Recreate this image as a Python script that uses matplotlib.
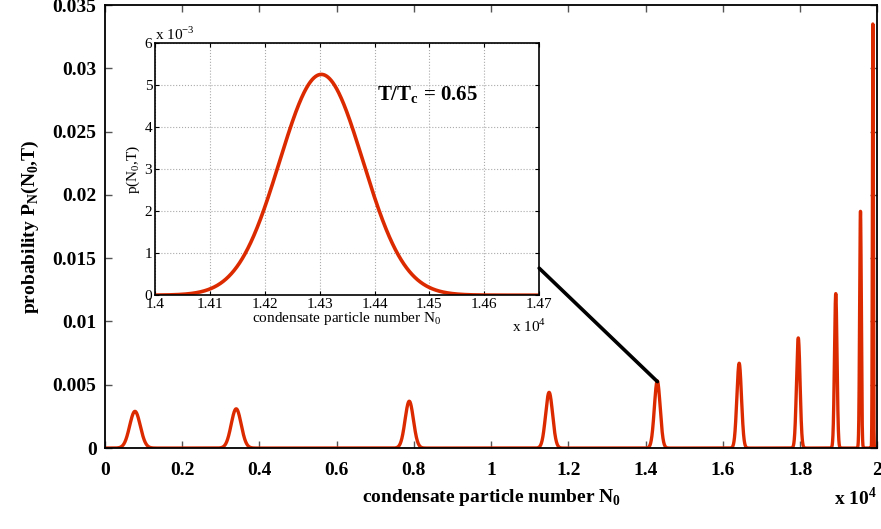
import numpy as np
import matplotlib
matplotlib.use('Agg')
import matplotlib.pyplot as plt
from matplotlib.patches import ConnectionPatch

plt.rcParams['font.family'] = 'Liberation Serif'
plt.rcParams['mathtext.fontset'] = 'custom'
plt.rcParams['mathtext.rm'] = 'Liberation Serif'
plt.rcParams['mathtext.bf'] = 'Liberation Serif:bold'

# peak positions (N0) and peak heights
centers = [780, 3400, 7880, 11500, 14300, 16420, 17950, 18920, 19560, 19880]
heights = [0.0029, 0.0031, 0.0037, 0.0044, 0.0053, 0.0067, 0.0087, 0.0122, 0.0187, 0.0335]

# zoomed peak for T/Tc = 0.65
inset_center = 14303
inset_height = 5.25e-3

red = '#dc2a00'

def peak(n, c, h):
    # normalised gaussian with the given top height
    s = 1.0 / (h * np.sqrt(2 * np.pi))
    return h * np.exp(-0.5 * ((n - c) / s) ** 2)

n = np.linspace(0, 20000, 20001)
p = np.zeros_like(n)
for c, h in zip(centers, heights):
    p = p + peak(n, c, h)

fig = plt.figure(figsize=(8.81, 5.29), dpi=100)
ax = fig.add_axes([0.119, 0.153, 0.877, 0.8375])
ax.plot(n / 1e4, p, color=red, lw=2.4)
ax.set_xlim(0, 2)
ax.set_ylim(0, 0.035)
ax.set_xticks(np.arange(0, 2.01, 0.2))
ax.set_xticklabels(['0', '0.2', '0.4', '0.6', '0.8', '1', '1.2', '1.4', '1.6', '1.8', '2'])
ax.set_yticks(np.arange(0, 0.0351, 0.005))
ax.set_yticklabels(['0', '0.005', '0.01', '0.015', '0.02', '0.025', '0.03', '0.035'])
ax.tick_params(direction='in', top=True, right=True, length=5, width=1, color='#555555',
               labelsize=14, pad=6)
ax.tick_params(axis='x', pad=10)
for lab in ax.get_xticklabels() + ax.get_yticklabels():
    lab.set_fontweight('bold')
for sp in ax.spines.values():
    sp.set_linewidth(1.3)
ax.set_xlabel(r'condensate particle number N$_\mathbf{0}$', fontsize=14, fontweight='bold', labelpad=6)
ax.set_ylabel(r'probability P$_\mathbf{N}$(N$_\mathbf{0}$,T)', fontsize=14, fontweight='bold', labelpad=8)
fig.text(0.947, 0.045, r'x 10$^\mathbf{4}$', fontsize=14, fontweight='bold', ha='left')

# inset
ins = fig.add_axes([0.176, 0.442, 0.436, 0.477])
ni = np.linspace(14000, 14700, 1401)
ins.plot(ni / 1e4, peak(ni, inset_center, inset_height) * 1e3, color=red, lw=2.6)
ins.set_xlim(1.4, 1.47)
ins.set_ylim(0, 6)
ins.set_xticks(np.arange(1.4, 1.4701, 0.01))
ins.set_xticklabels(['1.4', '1.41', '1.42', '1.43', '1.44', '1.45', '1.46', '1.47'])
ins.set_yticks(range(7))
ins.grid(True, linestyle=':', color='#aaaaaa', lw=0.8)
ins.tick_params(direction='in', top=True, right=True, length=3, labelsize=11, pad=2)
for sp in ins.spines.values():
    sp.set_linewidth(1.2)
ins.set_xlabel(r'condensate particle number N$_\mathrm{0}$', fontsize=11, labelpad=-1)
ins.set_ylabel(r'p(N$_\mathrm{0}$,T)', fontsize=11, labelpad=2)
ins.text(0.0, 1.0, r'x 10$^{-3}$', transform=ins.transAxes, fontsize=11, va='bottom', ha='left')
ins.text(0.93, -0.09, r'x 10$^4$', transform=ins.transAxes, fontsize=11, va='top', ha='left')
ins.text(1.4405, 4.75, r'T/T$_\mathbf{c}$ = 0.65', fontsize=15, fontweight='bold', va='center')

con = ConnectionPatch(xyA=(1.0, 0.107), coordsA=ins.transAxes,
                      xyB=(inset_center / 1e4, inset_height), coordsB=ax.transData,
                      color='black', lw=2.6)
fig.add_artist(con)

fig.savefig('out.png', dpi=100)
